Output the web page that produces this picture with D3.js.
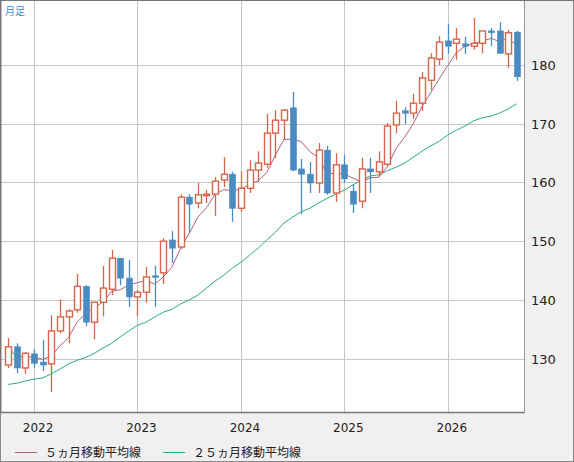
<!DOCTYPE html>
<html><head><meta charset="utf-8">
<script src="https://cdn.jsdelivr.net/npm/d3@7"></script>
<style>body{margin:0;background:#f0f0f0;}svg{display:block;font-family:"DejaVu Sans",sans-serif;}</style>
</head><body><svg id="chart" width="574" height="462"></svg>
<script>
// monthly candles, Oct 2021 .. Sep 2026
var startYear = 2021, startMonth = 9; // zero-based month of first candle
var opens  = [128.9,132.0,128.4,130.8,129.4,129.1,134.7,137.1,138.3,142.3,136.2,139.6,141.8,147.1,143.7,140.5,141.3,144.1,144.6,150.2,149.0,157.5,156.5,157.9,158.0,160.4,161.4,155.6,159.0,162.1,163.1,168.4,170.6,172.7,162.3,161.4,159.9,165.5,158.2,163.0,158.5,156.8,162.3,161.8,163.1,169.8,172.2,171.8,173.5,177.4,181.0,184.1,183.7,183.6,183.2,183.7,185.8,185.8,181.9,185.6];
var highs  = [133.5,132.6,131.1,131.6,133.2,137.4,140.1,138.4,144.4,142.5,139.6,145.8,148.5,147.1,146.8,141.7,145.6,145.8,150.5,151.7,158.0,158.0,159.9,158.7,160.9,164.3,161.8,161.9,163.8,165.3,171.7,172.3,172.5,175.4,164.0,163.5,166.7,166.2,165.0,164.7,159.6,164.2,164.2,165.3,170.1,173.9,172.8,175.1,178.8,182.0,184.9,187.0,186.3,184.8,188.0,185.8,186.3,187.3,186.0,185.8];
var lows   = [128.4,127.5,127.4,128.4,127.9,124.3,134.3,132.6,137.8,135.5,133.3,137.2,140.8,142.5,138.8,137.2,139.5,138.8,142.7,146.3,148.7,151.4,155.6,156.5,154.3,159.2,153.3,155.0,158.2,160.1,162.5,164.2,167.2,161.9,154.6,158.2,158.2,157.9,156.7,159.9,154.8,155.6,158.2,161.1,162.8,168.4,169.9,170.8,172.2,175.7,180.0,181.9,180.9,181.9,182.6,182.0,183.2,182.0,179.5,177.3];
var closes = [132.0,128.4,130.9,129.2,128.9,134.7,137.1,138.1,142.3,136.2,139.6,142.0,147.1,143.7,140.5,141.3,143.9,143.9,150.0,148.8,157.5,156.3,157.9,158.0,160.2,161.4,155.6,159.0,162.1,163.3,168.4,170.6,172.3,162.1,161.4,159.9,165.5,158.2,163.0,160.6,156.3,162.3,161.8,163.5,169.6,171.8,171.8,173.5,177.8,181.2,183.9,183.2,184.4,183.2,183.7,185.8,185.5,182.0,185.5,178.0];
// 25-month average as drawn (needs history before the first candle)
var ma25 = [125.6,125.8,126.2,126.5,126.7,127.4,128.2,129.1,129.7,130.2,130.9,131.8,132.6,133.7,134.7,135.7,136.2,137.1,137.9,138.4,139.3,140.0,140.8,142.0,143.2,144.2,145.4,146.4,147.6,148.8,150.2,151.5,153.1,154.1,155.0,155.6,156.5,157.3,158.0,158.7,159.6,160.4,161.1,161.3,162.0,162.6,163.3,164.3,165.3,166.2,167.0,168.1,168.9,169.6,170.5,171.0,171.3,171.8,172.5,173.4];
var yTicks = [130, 140, 150, 160, 170, 180];
var yearLabels = ['2022', '2023', '2024', '2025', '2026'];

var svg = d3.select('#chart');
var W = 524, H = 412;
var x = d3.scaleLinear().domain([-0.951, 59.84]).range([0, W]);
var y = d3.scaleLinear().domain([120.9, 191.07]).range([H, 0]);

// 5-month average from closes (partial window at the start)
var ma5 = closes.map(function(c, i) {
    var s = closes.slice(Math.max(0, i - 4), i + 1);
    return d3.mean(s);
});

svg.append('rect').attr('x', 0.5).attr('y', 0.5).attr('width', 573).attr('height', 461)
    .attr('fill', '#f0f0f0').attr('stroke', '#888');
svg.append('rect').attr('x', 1).attr('y', 1).attr('width', W - 1).attr('height', H - 1)
    .attr('fill', '#fff');

var g = svg.append('g');
// grid
g.selectAll('.hg').data(yTicks).enter().append('line')
    .attr('x1', 1).attr('x2', W).attr('y1', function(d) { return Math.round(y(d)) + 0.5; })
    .attr('y2', function(d) { return Math.round(y(d)) + 0.5; }).attr('stroke', '#c8c8c8');
var janIdx = yearLabels.map(function(yl) { return (+yl - startYear) * 12 - startMonth; });
g.selectAll('.vg').data(janIdx).enter().append('line')
    .attr('y1', 1).attr('y2', H).attr('x1', function(d) { return Math.round(x(d)) + 0.5; })
    .attr('x2', function(d) { return Math.round(x(d)) + 0.5; }).attr('stroke', '#c8c8c8');

// moving averages
var line = d3.line().x(function(d, i) { return x(i); }).y(function(d) { return y(d); });
g.append('path').datum(ma25).attr('d', line).attr('fill', 'none').attr('stroke', '#2aae72').attr('stroke-width', 1);
g.append('path').datum(ma5).attr('d', line).attr('fill', 'none').attr('stroke', '#b0607e').attr('stroke-width', 1);

// candles
var idx = d3.range(opens.length);
var up = function(i) { return closes[i] >= opens[i]; };
var col = function(i) { return up(i) ? '#d8654a' : '#4b8bc2'; };
g.selectAll('.wick').data(idx).enter().append('line')
    .attr('x1', function(i) { return Math.round(x(i)) + 0.5; })
    .attr('x2', function(i) { return Math.round(x(i)) + 0.5; })
    .attr('y1', function(i) { return y(highs[i]); })
    .attr('y2', function(i) { return y(lows[i]); })
    .attr('stroke', col).attr('stroke-width', 1.3);
g.selectAll('.body').data(idx).enter().append('rect')
    .attr('x', function(i) { return Math.round(x(i)) - 2.5; })
    .attr('width', 6)
    .attr('y', function(i) { return y(Math.max(opens[i], closes[i])); })
    .attr('height', function(i) { return Math.max(1.5, Math.abs(y(opens[i]) - y(closes[i]))); })
    .attr('fill', function(i) { return up(i) ? '#fff' : '#4b8bc2'; })
    .attr('stroke', col).attr('stroke-width', function(i) { return up(i) ? 1.4 : 0.6; });

// plot frame
svg.append('line').attr('x1', 0.5).attr('x2', 0.5).attr('y1', 0).attr('y2', H + 1).attr('stroke', '#777').attr('stroke-width', 2);
svg.append('line').attr('x1', 0).attr('x2', W + 1).attr('y1', H + 0.5).attr('y2', H + 0.5).attr('stroke', '#777').attr('stroke-width', 1.5);
svg.append('line').attr('x1', W + 0.5).attr('x2', W + 0.5).attr('y1', 0).attr('y2', H + 1).attr('stroke', '#999');
svg.append('line').attr('x1', 0).attr('x2', 574).attr('y1', 0.5).attr('y2', 0.5).attr('stroke', '#777');

// axes labels
svg.selectAll('.yl').data(yTicks).enter().append('text')
    .attr('x', 531).attr('y', function(d) { return y(d) + 5; })
    .attr('font-size', 13).attr('fill', '#222').text(function(d) { return d; });
svg.selectAll('.xl').data(janIdx).enter().append('text')
    .attr('x', function(d) { return x(d) + 4; }).attr('y', 432)
    .attr('text-anchor', 'middle').attr('font-size', 12).attr('fill', '#222')
    .text(function(d, i) { return yearLabels[i]; });

svg.append('text').attr('x', 5).attr('y', 15).attr('font-size', 10).attr('fill', '#3a8fd8')
    .attr('font-family', 'Noto Sans CJK JP').text('月足');

// legend
var leg = [{ t: '５ヵ月移動平均線', c: '#b0607e', x: 15 }, { t: '２５ヵ月移動平均線', c: '#2aae72', x: 163 }];
leg.forEach(function(l) {
    svg.append('line').attr('x1', l.x).attr('x2', l.x + 22).attr('y1', 452.5).attr('y2', 452.5).attr('stroke', l.c);
    svg.append('text').attr('x', l.x + 30).attr('y', 457).attr('font-size', 12).attr('fill', '#222')
        .attr('font-family', 'Noto Sans CJK JP').text(l.t);
});
</script></body></html>
